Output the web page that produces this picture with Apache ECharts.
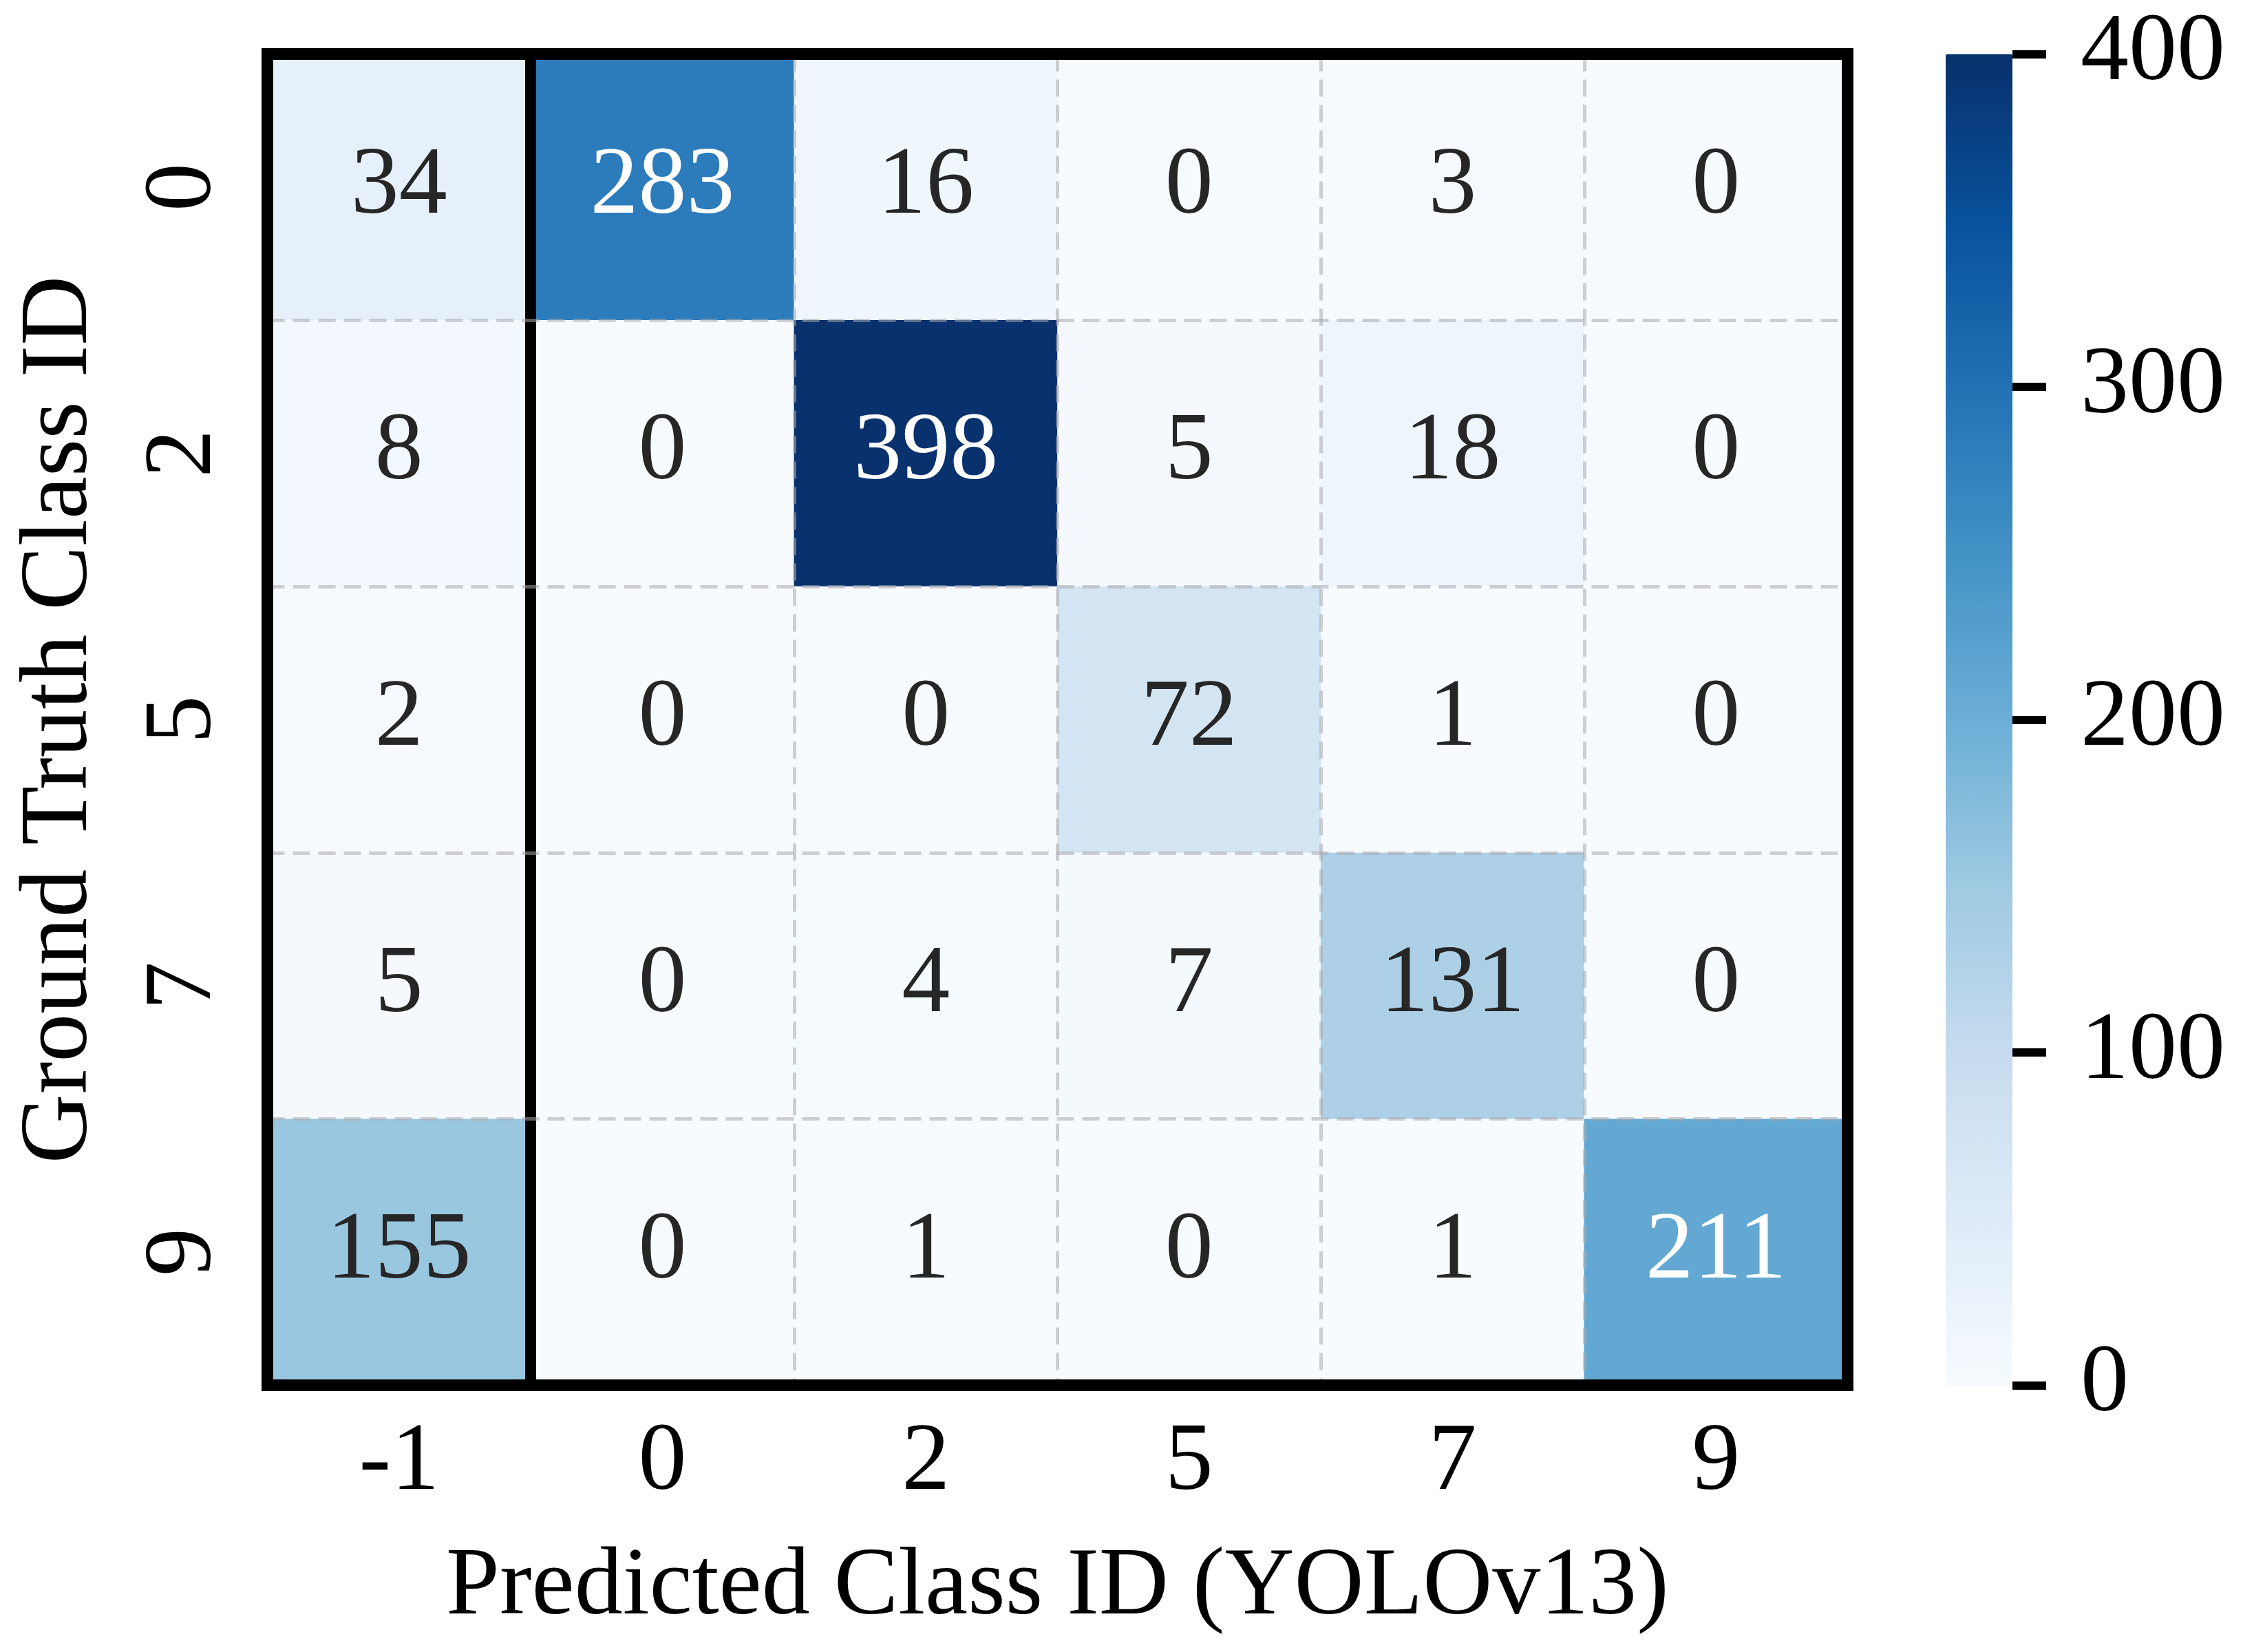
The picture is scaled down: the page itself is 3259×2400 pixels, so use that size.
<!DOCTYPE html>
<html>
<head>
<meta charset="utf-8">
<script src="https://cdn.jsdelivr.net/npm/echarts@6/dist/echarts.min.js"></script>
<style>
html, body { margin: 0; padding: 0; background: #fff; }
#chart { width: 3259px; height: 2400px; }
</style>
</head>
<body>
<div id="chart"></div>
<script>
// confusion matrix, rows = ground truth, columns = predicted
var predictedIds = ['-1', '0', '2', '5', '7', '9'];
var truthIds = ['0', '2', '5', '7', '9'];
var counts = [
    [34, 283, 16, 0, 3, 0],
    [8, 0, 398, 5, 18, 0],
    [2, 0, 0, 72, 1, 0],
    [5, 0, 4, 7, 131, 0],
    [155, 0, 1, 0, 1, 211]
];
var colorMin = 0;
var colorMax = 400;
var colorStep = 100;

// matplotlib "Blues"
var blues = ['#f7fbff', '#deebf7', '#c6dbef', '#9ecae1', '#6baed6',
             '#4292c6', '#2171b5', '#08519c', '#08306b'];

var FONT = "'Liberation Serif', 'Times New Roman', serif";
var FS = 140;
var gridDash = { color: 'rgba(170,170,175,0.55)', width: 5, type: [25, 12] };
var frameLine = { color: '#000', width: 17, cap: 'square' };

var heatData = [];
for (var r = 0; r < counts.length; r++) {
    for (var c = 0; c < counts[r].length; c++) {
        var v = counts[r][c];
        heatData.push({
            value: [c, r, v],
            label: { color: v > 180 ? '#ffffff' : '#262626' }
        });
    }
}

var dom = document.getElementById('chart');
var myChart = echarts.init(dom, null, { renderer: 'canvas' });

var mainLeft = 388.5, mainTop = 78.5, mainW = 2296, mainH = 1934;
var barLeft = 2827, barW = 97;

var option = {
    backgroundColor: '#fff',
    animation: false,
    textStyle: { fontFamily: FONT },
    grid: [
        { left: mainLeft, top: mainTop, width: mainW, height: mainH },
        { left: barLeft, top: mainTop, width: barW, height: mainH }
    ],
    xAxis: [
        {
            type: 'category', gridIndex: 0, data: predictedIds, position: 'bottom', z: 10,
            axisLine: { show: true, lineStyle: frameLine },
            axisTick: { show: false },
            axisLabel: { fontSize: FS, fontFamily: FONT, color: '#000', margin: 44 },
            splitLine: { show: true, showMinLine: false, showMaxLine: false, lineStyle: gridDash },
            name: 'Predicted Class ID (YOLOv13)', nameLocation: 'middle', nameGap: 225,
            nameTextStyle: { fontSize: FS, fontFamily: FONT, color: '#000' }
        },
        {
            type: 'category', gridIndex: 0, data: predictedIds, position: 'top', z: 12,
            axisLine: { show: true, lineStyle: frameLine },
            axisTick: { show: false }, axisLabel: { show: false }, splitLine: { show: false }
        },
        { type: 'value', gridIndex: 1, show: false, min: 0, max: 1 }
    ],
    yAxis: [
        {
            type: 'category', gridIndex: 0, data: truthIds, inverse: true, position: 'left', z: 12,
            axisLine: { show: true, lineStyle: frameLine },
            axisTick: { show: false },
            axisLabel: { fontSize: FS, fontFamily: FONT, color: '#000', rotate: 90, margin: 50 },
            splitLine: { show: true, showMinLine: false, showMaxLine: false, lineStyle: gridDash },
            name: 'Ground Truth Class ID', nameLocation: 'middle', nameGap: 230,
            nameTextStyle: { fontSize: FS, fontFamily: FONT, color: '#000' }
        },
        {
            type: 'category', gridIndex: 0, data: truthIds, inverse: true, position: 'right', z: 12,
            axisLine: { show: true, lineStyle: frameLine },
            axisTick: { show: false }, axisLabel: { show: false }, splitLine: { show: false }
        },
        {
            // divider between the "-1" column and the rest
            type: 'category', gridIndex: 0, data: truthIds, inverse: true, position: 'left',
            offset: -mainW / predictedIds.length, z: 11,
            axisLine: { show: true, lineStyle: { color: '#000', width: 16 } },
            axisTick: { show: false }, axisLabel: { show: false }, splitLine: { show: false }
        },
        {
            // colorbar scale
            type: 'value', gridIndex: 1, position: 'right', z: 20,
            min: colorMin, max: colorMax, interval: colorStep,
            axisLine: { show: false, onZero: false },
            axisTick: { show: true, inside: false, length: 49, lineStyle: { color: '#000', width: 12 } },
            axisLabel: { fontSize: FS, fontFamily: FONT, color: '#000', margin: 99 },
            splitLine: { show: false }
        }
    ],
    visualMap: {
        type: 'continuous',
        min: colorMin, max: colorMax,
        calculable: false, hoverLink: false,
        orient: 'vertical', align: 'left',
        left: barLeft, top: mainTop,
        itemWidth: barW, itemHeight: mainH,
        padding: 0, z: 1,
        seriesIndex: 0,
        inRange: { color: blues }
    },
    series: [{
        type: 'heatmap',
        xAxisIndex: 0, yAxisIndex: 0,
        data: heatData,
        label: {
            show: true, fontSize: FS, fontFamily: FONT,
            formatter: function (p) { return p.value[2]; }
        },
        emphasis: { disabled: true }
    }]
};

myChart.setOption(option, true);
</script>
</body>
</html>
